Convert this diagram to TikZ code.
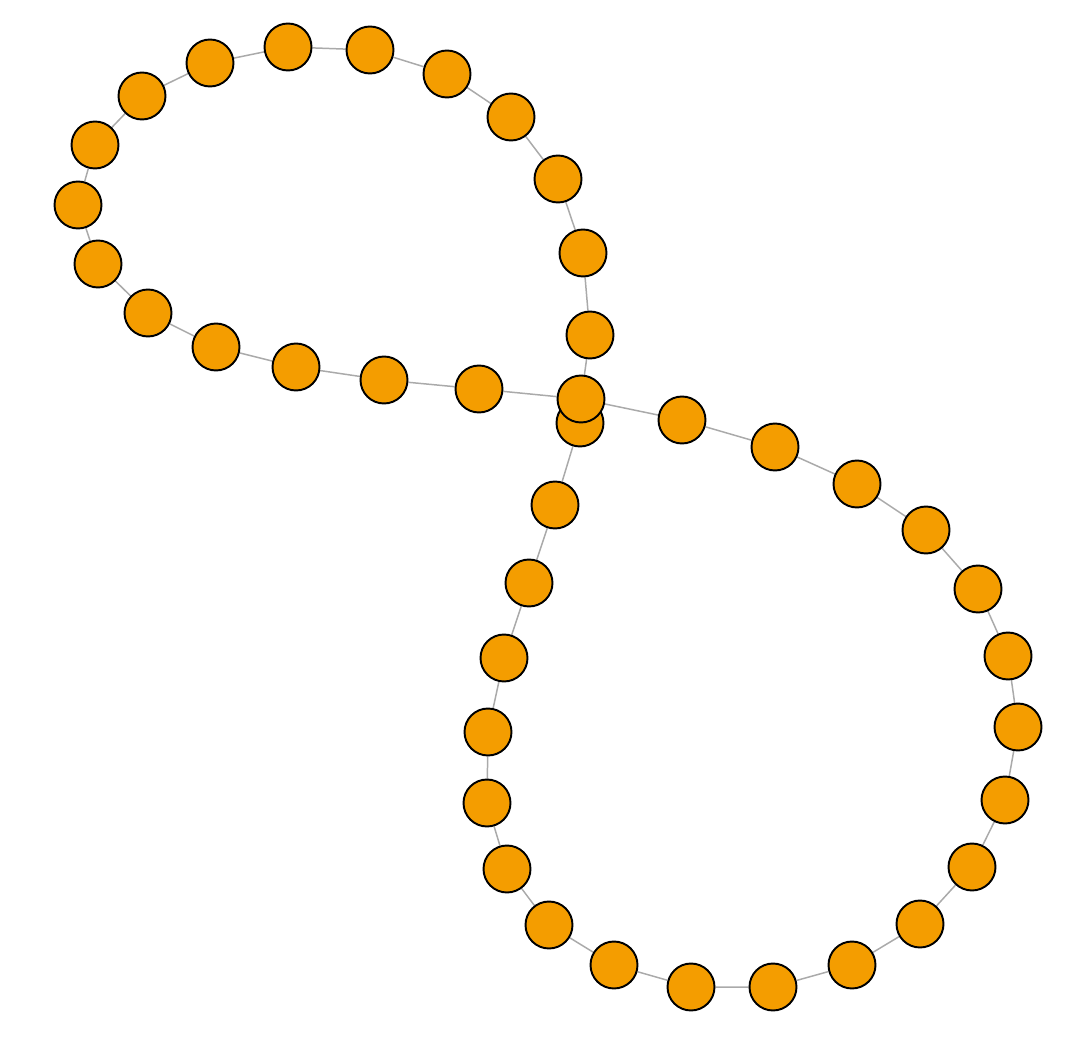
\documentclass[tikz,border=0pt]{standalone}
\usepackage{xcolor}
\definecolor{vertexfill}{HTML}{F49D00}
\definecolor{edgegray}{HTML}{AAAAAA}
\usepackage{tikz}
\usetikzlibrary{backgrounds}

\begin{document}
\begin{tikzpicture}[
  x=0.02cm, y=-0.02cm,
  vertex/.style={circle, draw=black, line width=1.1pt, fill=vertexfill,
                 inner sep=0pt, minimum size=0.94cm},
  link/.style={edgegray, line width=0.85pt}
]
  \useasboundingbox (0,0) rectangle (1092,1050);

  % upper loop
  \node[vertex] (a1)  at (288,47)  {};
  \node[vertex] (a2)  at (370,50)  {};
  \node[vertex] (a3)  at (447,74)  {};
  \node[vertex] (a4)  at (511,117) {};
  \node[vertex] (a5)  at (558,179) {};
  \node[vertex] (a6)  at (583,253) {};
  \node[vertex] (a7)  at (590,335) {};
  \node[vertex] (a8)  at (210,63)  {};
  \node[vertex] (a9)  at (142,96)  {};
  \node[vertex] (a10) at (95,145)  {};
  \node[vertex] (a11) at (78,205)  {};
  \node[vertex] (a12) at (98,264)  {};
  \node[vertex] (a13) at (148,313) {};
  \node[vertex] (a14) at (216,347) {};
  \node[vertex] (a15) at (296,367) {};
  \node[vertex] (a16) at (384,380) {};
  \node[vertex] (a17) at (479,389) {};

  % the two middle vertices
  \node[vertex] (c2) at (580,423) {};
  \node[vertex] (c1) at (581,399) {};

  % lower loop
  \node[vertex] (b1)  at (682,420)  {};
  \node[vertex] (b2)  at (775,447)  {};
  \node[vertex] (b3)  at (857,484)  {};
  \node[vertex] (b4)  at (926,530)  {};
  \node[vertex] (b5)  at (978,589)  {};
  \node[vertex] (b6)  at (1008,656) {};
  \node[vertex] (b7)  at (1018,727) {};
  \node[vertex] (b8)  at (1005,800) {};
  \node[vertex] (b9)  at (972,867)  {};
  \node[vertex] (b10) at (920,924)  {};
  \node[vertex] (b11) at (852,965)  {};
  \node[vertex] (b12) at (773,987)  {};
  \node[vertex] (b13) at (691,987)  {};
  \node[vertex] (b14) at (614,965)  {};
  \node[vertex] (b15) at (549,925)  {};
  \node[vertex] (b16) at (507,869)  {};
  \node[vertex] (b17) at (487,803)  {};
  \node[vertex] (b18) at (488,732)  {};
  \node[vertex] (b19) at (504,658)  {};
  \node[vertex] (b20) at (529,583)  {};
  \node[vertex] (b21) at (555,505)  {};

  \begin{scope}[on background layer]
    \draw[link] (c1) -- (a17) -- (a16) -- (a15) -- (a14) -- (a13) -- (a12)
                -- (a11) -- (a10) -- (a9) -- (a8) -- (a1) -- (a2) -- (a3)
                -- (a4) -- (a5) -- (a6) -- (a7) -- (c1);
    \draw[link] (c1) -- (b1) -- (b2) -- (b3) -- (b4) -- (b5) -- (b6) -- (b7)
                -- (b8) -- (b9) -- (b10) -- (b11) -- (b12) -- (b13) -- (b14)
                -- (b15) -- (b16) -- (b17) -- (b18) -- (b19) -- (b20) -- (b21)
                -- (c2);
  \end{scope}
\end{tikzpicture}
\end{document}
